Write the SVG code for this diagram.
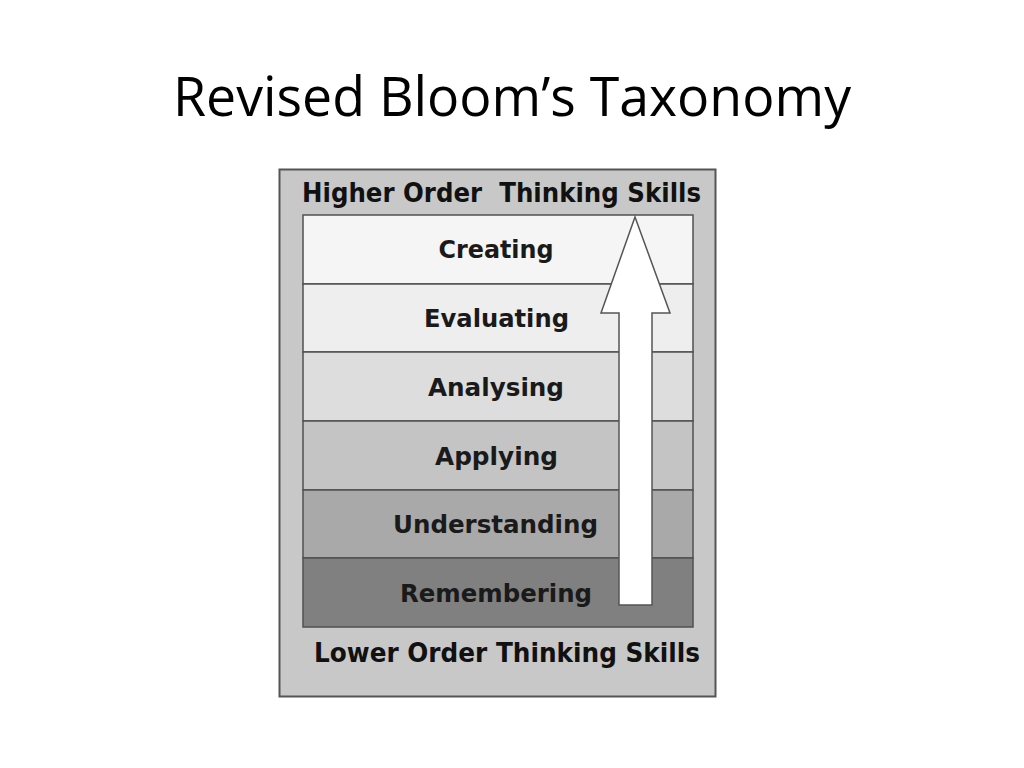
<svg xmlns="http://www.w3.org/2000/svg" width="1024" height="768" viewBox="0 0 1024 768">
<style>
.title{font-family:"Open Sans","Noto Sans","Liberation Sans",sans-serif;font-size:55px;fill:#000}
.lbl{font-family:"DejaVu Sans","Liberation Sans",sans-serif;font-weight:bold;font-size:24px;fill:#1a1a1a;text-anchor:middle}
.hdr{font-family:"DejaVu Sans","Liberation Sans",sans-serif;font-weight:bold;font-size:26px;fill:#111}
.row{stroke:#505050;stroke-width:1.5}
</style>
<rect width="1024" height="768" fill="#fff"/>
<text class="title" x="173" y="116" textLength="678" lengthAdjust="spacingAndGlyphs">Revised Bloom’s Taxonomy</text>
<g id="frame">
<rect x="279.5" y="169.5" width="436" height="527" fill="#c8c8c8" stroke="#555" stroke-width="2"/>
<text class="hdr" x="302" y="202" textLength="399" lengthAdjust="spacingAndGlyphs" xml:space="preserve">Higher Order  Thinking Skills</text>
<text class="hdr" x="314" y="662" textLength="386" lengthAdjust="spacingAndGlyphs">Lower Order Thinking Skills</text>
</g>
<g id="creating"><rect class="row" x="303" y="215" width="390" height="69" fill="#f5f5f5"/><text class="lbl" x="496" y="258" textLength="115" lengthAdjust="spacingAndGlyphs">Creating</text></g>
<g id="evaluating"><rect class="row" x="303" y="284" width="390" height="68" fill="#eeeeee"/><text class="lbl" x="496.5" y="327" textLength="145" lengthAdjust="spacingAndGlyphs">Evaluating</text></g>
<g id="analysing"><rect class="row" x="303" y="352" width="390" height="69" fill="#dddddd"/><text class="lbl" x="496" y="396" textLength="136" lengthAdjust="spacingAndGlyphs">Analysing</text></g>
<g id="applying"><rect class="row" x="303" y="421" width="390" height="69" fill="#c4c4c4"/><text class="lbl" x="496.5" y="465" textLength="123" lengthAdjust="spacingAndGlyphs">Applying</text></g>
<g id="understanding"><rect class="row" x="303" y="490" width="390" height="68" fill="#a9a9a9"/><text class="lbl" x="495.5" y="533" textLength="205" lengthAdjust="spacingAndGlyphs">Understanding</text></g>
<g id="remembering"><rect class="row" x="303" y="558" width="390" height="69" fill="#808080"/><text class="lbl" x="496" y="602" textLength="192" lengthAdjust="spacingAndGlyphs">Remembering</text></g>
<g id="connectors">
<path d="M635,217 L670,313 L652,313 L652,605 L619,605 L619,313 L601,313 Z" fill="#fff" stroke="#555" stroke-width="1.5" stroke-linejoin="miter"/>
</g>
</svg>
